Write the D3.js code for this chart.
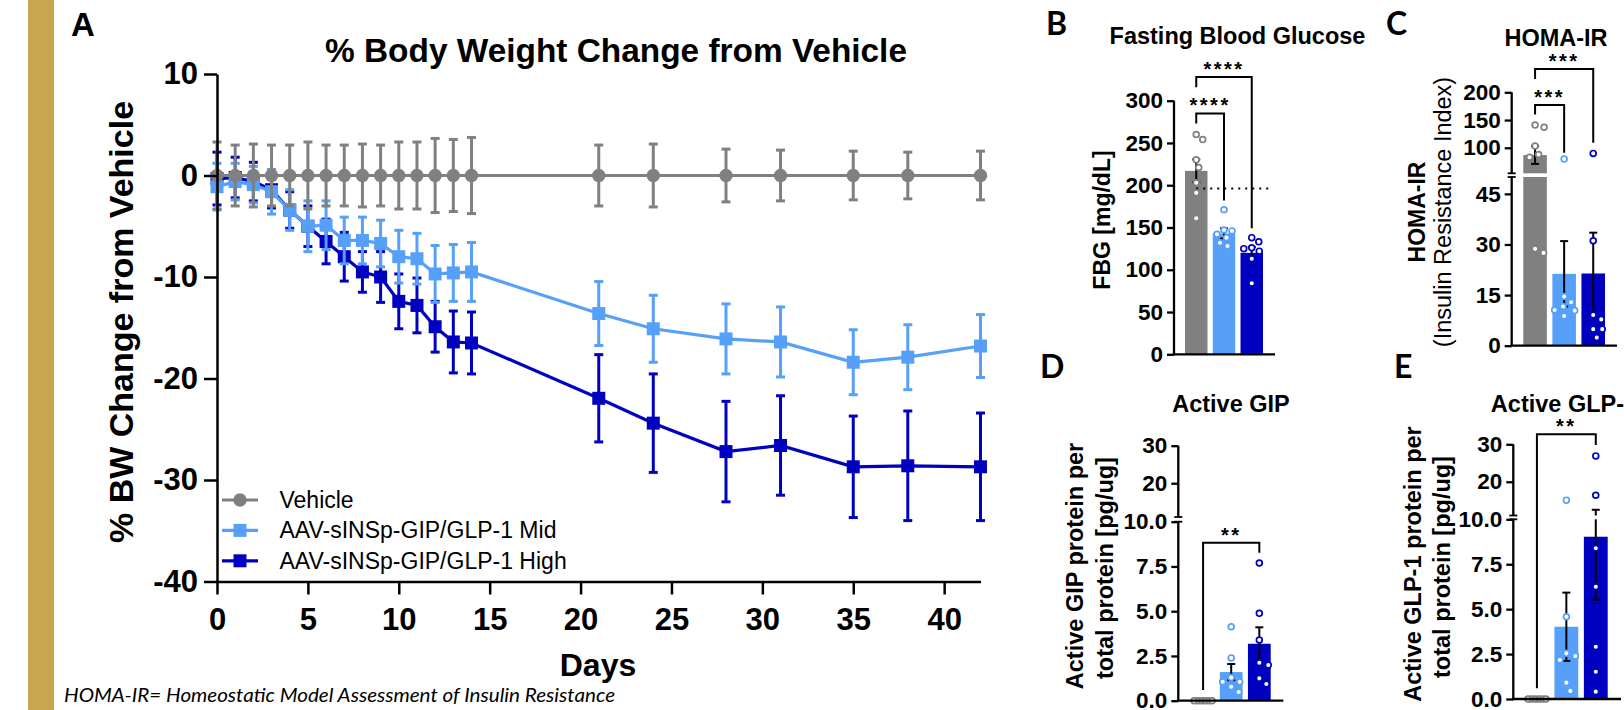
<!DOCTYPE html>
<html>
<head>
<meta charset="utf-8">
<script src="https://cdn.jsdelivr.net/npm/d3@7"></script>
<style>
body { margin: 0; background: #fff; }
svg { display: block; }
</style>
</head>
<body>
<div id="chart"></div>
<script>
// ---------- Panel A: % body weight change ----------
const days = [0,1,2,3,4,5,6,7,8,9,10,11,12,13,14,21,24,28,31,35,38,42];
const vehicleMean = [0,0,0,0,0,0,0,0,0,0,0,0,0,0,0,0,0,0,0,0,0,0];
const vehicleSem = [3.3,3.0,3.1,3.0,3.0,3.3,3.0,3.0,3.1,3.0,3.3,3.3,3.65,3.55,3.75,3.0,3.1,2.6,2.5,2.4,2.3,2.4];
const midMean = [-1.1,-0.6,-0.9,-1.6,-3.4,-5.0,-4.9,-6.4,-6.4,-6.7,-8.0,-8.2,-9.7,-9.6,-9.5,-13.6,-15.1,-16.1,-16.4,-18.4,-17.9,-16.8];
const midSem = [2.3,1.8,1.8,2.2,2.0,2.5,2.4,2.3,2.3,2.3,2.6,2.5,2.8,2.8,2.9,3.15,3.3,3.45,3.45,3.2,3.2,3.1];
const highMean = [-0.3,-0.2,-0.6,-1.4,-3.4,-5.0,-6.5,-8.0,-9.5,-10.0,-12.4,-12.8,-14.9,-16.4,-16.5,-21.95,-24.4,-27.2,-26.6,-28.7,-28.6,-28.7];
const highSem = [2.6,2.0,1.9,1.8,1.8,2.0,2.2,2.4,2.0,2.5,2.7,2.7,2.5,3.05,3.05,4.3,4.85,4.95,4.9,5.0,5.4,5.3];
const seriesNames = ["Vehicle", "AAV-sINSp-GIP/GLP-1 Mid", "AAV-sINSp-GIP/GLP-1 High"];
const xTicksA = [0,5,10,15,20,25,30,35,40];
const yTicksA = [10,0,-10,-20,-30,-40];

// ---------- Panels B-E: bar charts ----------
const groups = ["Vehicle", "Mid", "High"];

const fbgMean = [217, 143, 120];
const fbgSem = [13.5, 6, 7];
const fbgVehicle = [260, 254, 230, 221, 203, 191, 161];
const fbgMid = [171, 147, 146, 142, 138, 132, 128];
const fbgHigh = [138, 133, 126, 125, 122, 113, 84];
const fbgRef = 196;
const fbgTicks = [0, 50, 100, 150, 200, 250, 300];
const fbgTickLabels = ["0", "50", "100", "150", "200", "250", "300"];
const fbgSig = [
  {from: 0, to: 1, label: "****", top: 285, left: 273, right: 182},
  {from: 0, to: 2, label: "****", top: 328, left: 316, right: 149}
];

const homaMean = [86.9, 21.3, 21.4];
const homaSem = [16, 9.7, 12.1];
const homaVehicle = [141, 137, 103, 88, 83, 28.7, 27.5];
const homaMid = [79.6, 14.6, 12.9, 11.6, 10.6, 10.4, 8.8];
const homaHigh = [89.9, 31.1, 9.1, 7.8, 4.9, 4.9, 2.4];
const homaTicks = [0, 15, 30, 45, 100, 150, 200];
const homaTickLabels = ["0", "15", "30", "45", "100", "150", "200"];
const homaSig = [
  {from: 0, to: 1, label: "***", top: 177, left: 160, right: 91},
  {from: 0, to: 2, label: "***", top: 242, left: 224, right: 109}
];

const gipMean = [0, 1.6, 3.18];
const gipSem = [0, 0.45, 0.92];
const gipVehicle = [0, 0, 0, 0, 0, 0, 0];
const gipMid = [4.13, 2.39, 1.29, 1.06, 1.06, 0.78, 0.49];
const gipHigh = [7.69, 4.88, 3.39, 2.12, 1.99, 1.25, 0.93];
const gipSig = [{from: 0, to: 2, label: "**", top: 8.83, left: 0.6, right: 8.27}];

const glpMean = [0, 4.02, 9.03];
const glpSem = [0, 1.9, 3.5];
const glpVehicle = [0, 0, 0, 0, 0, 0, 0];
const glpMid = [15.1, 4.58, 2.54, 2.39, 2.17, 0.91, 0.45];
const glpHigh = [26.9, 16.4, 8.39, 6.25, 2.91, 1.52, 0.41];
const glpSig = [{from: 0, to: 2, label: "**", top: 32.7, left: 0.6, right: 29.8}];

const proteinTicks = [0, 2.5, 5, 7.5, 10, 20, 30];
const proteinTickLabels = ["0.0", "2.5", "5.0", "7.5", "10.0", "20", "30"];

// ---------- styles ----------
const FONT = '"Liberation Sans", Arial, Helvetica, sans-serif';
const LETTER_FONT = 'Lato, "Liberation Sans", sans-serif';
const colVehicle = "#808080", colMid = "#56a0fa", colHigh = "#0000c0";
const barColors = [colVehicle, colMid, colHigh];

const svg = d3.select("#chart").append("svg")
    .attr("width", 1624)
    .attr("height", 710)
    .attr("font-family", FONT);

svg.append("rect").attr("width", 1624).attr("height", 710).attr("fill", "#fff");
// gold side stripe
svg.append("rect").attr("x", 28).attr("y", 0).attr("width", 26).attr("height", 710).attr("fill", "#c9a552");

function styleAxis(ga, size, width) {
    ga.selectAll("text")
        .attr("font-family", FONT)
        .attr("font-size", size)
        .attr("font-weight", "bold")
        .attr("fill", "#000");
    ga.selectAll("line").attr("stroke", "#000").attr("stroke-width", width);
    ga.select(".domain").attr("stroke", "#000").attr("stroke-width", width);
}

function addText(g, txt, x, y, opts) {
    return g.append("text")
        .attr("x", x).attr("y", y)
        .attr("font-family", opts.font || FONT)
        .attr("font-size", opts.size)
        .attr("font-weight", opts.weight || "bold")
        .attr("font-style", opts.style || "normal")
        .attr("text-anchor", opts.anchor || "middle")
        .text(txt);
}

function addVText(g, txt, x, y, opts) {
    return g.append("text")
        .attr("transform", "translate(" + x + "," + y + ") rotate(-90)")
        .attr("font-family", FONT)
        .attr("font-size", opts.size)
        .attr("font-weight", opts.weight || "bold")
        .attr("text-anchor", "middle")
        .text(txt);
}

// ================= Panel A =================
let xA = d3.scaleLinear().domain([0, 42]).range([217, 980.5]);
let yA = d3.scaleLinear().domain([-40, 10]).range([581.5, 74]);
const gA = svg.append("g");

addText(gA, "A", 71, 36, {size: 33, anchor: "start"});
addText(gA, "% Body Weight Change from Vehicle", 616, 62, {size: 33.4});
addVText(gA, "% BW Change from Vehicle", 133, 322, {size: 34});
addText(gA, "Days", 598, 676, {size: 32});

const seriesA = [
    {name: seriesNames[2], mean: highMean, sem: highSem, color: colHigh, shape: d3.symbolSquare, size: 169},
    {name: seriesNames[1], mean: midMean, sem: midSem, color: colMid, shape: d3.symbolSquare, size: 169},
    {name: seriesNames[0], mean: vehicleMean, sem: vehicleSem, color: colVehicle, shape: d3.symbolCircle, size: 140}
];

seriesA.forEach(s => {
    const g = gA.append("g");
    const pts = days.map((d, i) => ({x: d, m: s.mean[i], e: s.sem[i]}));
    const eb = g.selectAll("g.err").data(pts).join("g")
        .attr("class", "err")
        .attr("stroke", s.color)
        .attr("stroke-width", 3);
    eb.append("line")
        .attr("x1", d => xA(d.x)).attr("x2", d => xA(d.x))
        .attr("y1", d => yA(d.m - d.e)).attr("y2", d => yA(d.m + d.e));
    eb.append("line")
        .attr("x1", d => xA(d.x) - 4.5).attr("x2", d => xA(d.x) + 4.5)
        .attr("y1", d => yA(d.m + d.e)).attr("y2", d => yA(d.m + d.e));
    eb.append("line")
        .attr("x1", d => xA(d.x) - 4.5).attr("x2", d => xA(d.x) + 4.5)
        .attr("y1", d => yA(d.m - d.e)).attr("y2", d => yA(d.m - d.e));

    g.append("path")
        .datum(pts)
        .attr("fill", "none")
        .attr("stroke", s.color)
        .attr("stroke-width", 3.2)
        .attr("d", d3.line().x(d => xA(d.x)).y(d => yA(d.m)));

    g.selectAll("path.mk").data(pts).join("path")
        .attr("class", "mk")
        .attr("transform", d => "translate(" + xA(d.x) + "," + yA(d.m) + ")")
        .attr("d", d3.symbol(s.shape, s.size))
        .attr("fill", s.color);
});

const axXA = gA.append("g")
    .attr("transform", "translate(0," + yA(-40) + ")")
    .call(d3.axisBottom(xA).tickValues(xTicksA).tickFormat(d => String(d))
        .tickSize(13).tickPadding(13).tickSizeOuter(0));
styleAxis(axXA, 31, 2.5);

const axYA = gA.append("g")
    .attr("transform", "translate(" + xA(0) + ",0)")
    .call(d3.axisLeft(yA).tickValues(yTicksA).tickFormat(d => String(d))
        .tickSize(13).tickPadding(6).tickSizeOuter(0));
styleAxis(axYA, 31, 2.5);

// legend
const legend = gA.append("g");
[seriesA[2], seriesA[1], seriesA[0]].forEach((s, i) => {
    const ly = 500 + i * 30.4;
    legend.append("line")
        .attr("x1", 222).attr("x2", 258).attr("y1", ly).attr("y2", ly)
        .attr("stroke", s.color).attr("stroke-width", 3.2);
    legend.append("path")
        .attr("transform", "translate(240," + ly + ")")
        .attr("d", d3.symbol(s.shape, s.size))
        .attr("fill", s.color);
    addText(legend, s.name, 279.5, ly + 8, {size: 23, weight: "normal", anchor: "start"});
});

// footnote
addText(svg, "HOMA-IR= Homeostatic Model Assessment of Insulin Resistance", 64, 702,
    {size: 19, weight: "normal", style: "italic", anchor: "start", font: 'Lato, "Liberation Sans", sans-serif'})
    .attr("textLength", 551).attr("lengthAdjust", "spacingAndGlyphs");

// ================= Panels B-E =================
function swarm(vals, y, md) {
    const placed = [];
    return vals.map(v => {
        const py = y(v);
        let dx = 0;
        for (let k = 0; k < 200; k++) {
            const cands = k === 0 ? [0] : [k * 0.5, -k * 0.5];
            const ok = cands.find(c => placed.every(p => Math.hypot(p[0] - c, p[1] - py) >= md));
            if (ok !== undefined) { dx = ok; break; }
        }
        placed.push([dx, py]);
        return dx;
    });
}

const panels = [
    {letter: "B", letterX: 1046, letterY: 35,
     title: "Fasting Blood Glucose", titleX: 1237.5, titleY: 44,
     labels: [{t: "FBG [mg/dL]", x: 1110, y: 220, w: "bold", s: 23}],
     x0: 1174, x1: 1275, band: [1185, 1263],
     domain: [0, 300], range: [354.3, 100.7], segs: [[0, 300]],
     ticks: fbgTicks, tickLabels: fbgTickLabels,
     mean: fbgMean, sem: fbgSem, points: [fbgVehicle, fbgMid, fbgHigh], sig: fbgSig, ref: fbgRef, md: 8},
    {letter: "C", letterX: 1386, letterY: 35,
     title: "HOMA-IR", titleX: 1556, titleY: 46,
     labels: [{t: "HOMA-IR", x: 1424.5, y: 212, w: "bold", s: 23},
              {t: "(Insulin Resistance Index)", x: 1451, y: 212, w: "normal", s: 23.5}],
     x0: 1511.7, x1: 1617, band: [1523.3, 1605],
     domain: [0, 50, 54, 200], range: [345.7, 177, 173.3, 92.3], segs: [[0, 50], [54, 200]],
     ticks: homaTicks, tickLabels: homaTickLabels,
     mean: homaMean, sem: homaSem, points: [homaVehicle, homaMid, homaHigh], sig: homaSig, md: 9},
    {letter: "D", letterX: 1040, letterY: 378,
     title: "Active GIP", titleX: 1231, titleY: 412,
     labels: [{t: "Active GIP protein per", x: 1083, y: 566, w: "bold", s: 23.5},
              {t: "total protein [pg/ug]", x: 1113, y: 568, w: "bold", s: 23.5}],
     x0: 1178.3, x1: 1283.3, band: [1191.7, 1270.7],
     domain: [0, 10, 11, 30], range: [700.7, 521.7, 517, 445.7], segs: [[0, 10], [11, 30]],
     ticks: proteinTicks, tickLabels: proteinTickLabels,
     mean: gipMean, sem: gipSem, points: [gipVehicle, gipMid, gipHigh], sig: gipSig, md: 9},
    {letter: "E", letterX: 1394, letterY: 378,
     title: "Active GLP-1", titleX: 1564, titleY: 412,
     labels: [{t: "Active GLP-1 protein per", x: 1421, y: 564, w: "bold", s: 23.5},
              {t: "total protein [pg/ug]", x: 1450, y: 567, w: "bold", s: 23.5}],
     x0: 1513.3, x1: 1621, band: [1525, 1607.7],
     domain: [0, 10, 11, 30], range: [699, 519.3, 515.5, 444.3], segs: [[0, 10], [11, 30]],
     ticks: proteinTicks, tickLabels: proteinTickLabels,
     mean: glpMean, sem: glpSem, points: [glpVehicle, glpMid, glpHigh], sig: glpSig, md: 9}
];

panels.forEach(p => {
    const g = svg.append("g");
    const xb = d3.scaleBand().domain(groups).range(p.band).paddingInner(0.19).paddingOuter(0);
    const y = d3.scaleLinear().domain(p.domain).range(p.range);
    const cx = i => xb(groups[i]) + xb.bandwidth() / 2;

    addText(g, p.letter, p.letterX, p.letterY, {size: 32, anchor: "start", font: LETTER_FONT});
    addText(g, p.title, p.titleX, p.titleY, {size: 23.5});
    p.labels.forEach(l => addVText(g, l.t, l.x, l.y, {size: l.s, weight: l.w}));

    // bars
    g.selectAll("rect.bar").data(groups).join("rect")
        .attr("class", "bar")
        .attr("x", d => xb(d))
        .attr("width", xb.bandwidth())
        .attr("y", (d, i) => y(p.mean[i]))
        .attr("height", (d, i) => y(0) - y(p.mean[i]))
        .attr("fill", (d, i) => barColors[i]);

    // error bars
    groups.forEach((d, i) => {
        if (p.sem[i] <= 0) return;
        const lo = y(p.mean[i] - p.sem[i]), hi = y(p.mean[i] + p.sem[i]);
        const eg = g.append("g").attr("stroke", "#000").attr("stroke-width", 2);
        eg.append("line").attr("x1", cx(i)).attr("x2", cx(i)).attr("y1", lo).attr("y2", hi);
        eg.append("line").attr("x1", cx(i) - 4).attr("x2", cx(i) + 4).attr("y1", lo).attr("y2", lo);
        eg.append("line").attr("x1", cx(i) - 4).attr("x2", cx(i) + 4).attr("y1", hi).attr("y2", hi);
    });

    // axis break gap
    if (p.segs.length > 1) {
        const yTop = y(p.segs[1][0]), yBot = y(p.segs[0][1]);
        g.append("rect")
            .attr("x", p.x0 + 1.2).attr("width", p.x1 - p.x0)
            .attr("y", yTop).attr("height", yBot - yTop)
            .attr("fill", "#fff");
    }

    // reference line
    if (p.ref !== undefined) {
        g.append("line")
            .attr("x1", cx(0)).attr("x2", p.x1 - 3)
            .attr("y1", y(p.ref)).attr("y2", y(p.ref))
            .attr("stroke", "#000").attr("stroke-width", 2)
            .attr("stroke-dasharray", "2,5");
    }

    // individual points
    p.points.forEach((vals, i) => {
        const same = vals.every(v => v === vals[0]);
        const offs = swarm(vals, y, same ? 2.8 : p.md);
        g.selectAll(null).data(vals).join("circle")
            .attr("cx", (v, k) => cx(i) + offs[k])
            .attr("cy", v => y(v))
            .attr("r", 2.9)
            .attr("fill", "#fff")
            .attr("stroke", barColors[i])
            .attr("stroke-width", 1.7);
    });

    // significance brackets
    p.sig.forEach(s => {
        const xl = cx(s.from), xr = cx(s.to), yt = y(s.top);
        g.append("path")
            .attr("d", "M" + xl + "," + y(s.left) + "V" + yt + "H" + xr + "V" + y(s.right))
            .attr("fill", "none").attr("stroke", "#000").attr("stroke-width", 2);
        addText(g, s.label, (xl + xr) / 2, yt - 1, {size: 20})
            .attr("letter-spacing", 2.5);
    });

    // axes
    const ay = g.append("g")
        .attr("transform", "translate(" + p.x0 + ",0)")
        .call(d3.axisLeft(y).tickValues(p.ticks).tickFormat((d, i) => p.tickLabels[i])
            .tickSize(7).tickPadding(4).tickSizeOuter(0));
    ay.select(".domain").remove();
    styleAxis(ay, 22.5, 2.3);
    p.segs.forEach(sg => {
        g.append("line")
            .attr("x1", p.x0).attr("x2", p.x0)
            .attr("y1", y(sg[0])).attr("y2", y(sg[1]))
            .attr("stroke", "#000").attr("stroke-width", 2.3);
    });
    if (p.segs.length > 1) {
        [y(p.segs[0][1]), y(p.segs[1][0])].forEach(by => {
            g.append("line")
                .attr("x1", p.x0 - 4).attr("x2", p.x0 + 4)
                .attr("y1", by).attr("y2", by)
                .attr("stroke", "#000").attr("stroke-width", 1.8);
        });
    }
    g.append("line")
        .attr("x1", p.x0 - 1.1).attr("x2", p.x1)
        .attr("y1", y(0)).attr("y2", y(0))
        .attr("stroke", "#000").attr("stroke-width", 2.3);
});
</script>
</body>
</html>
